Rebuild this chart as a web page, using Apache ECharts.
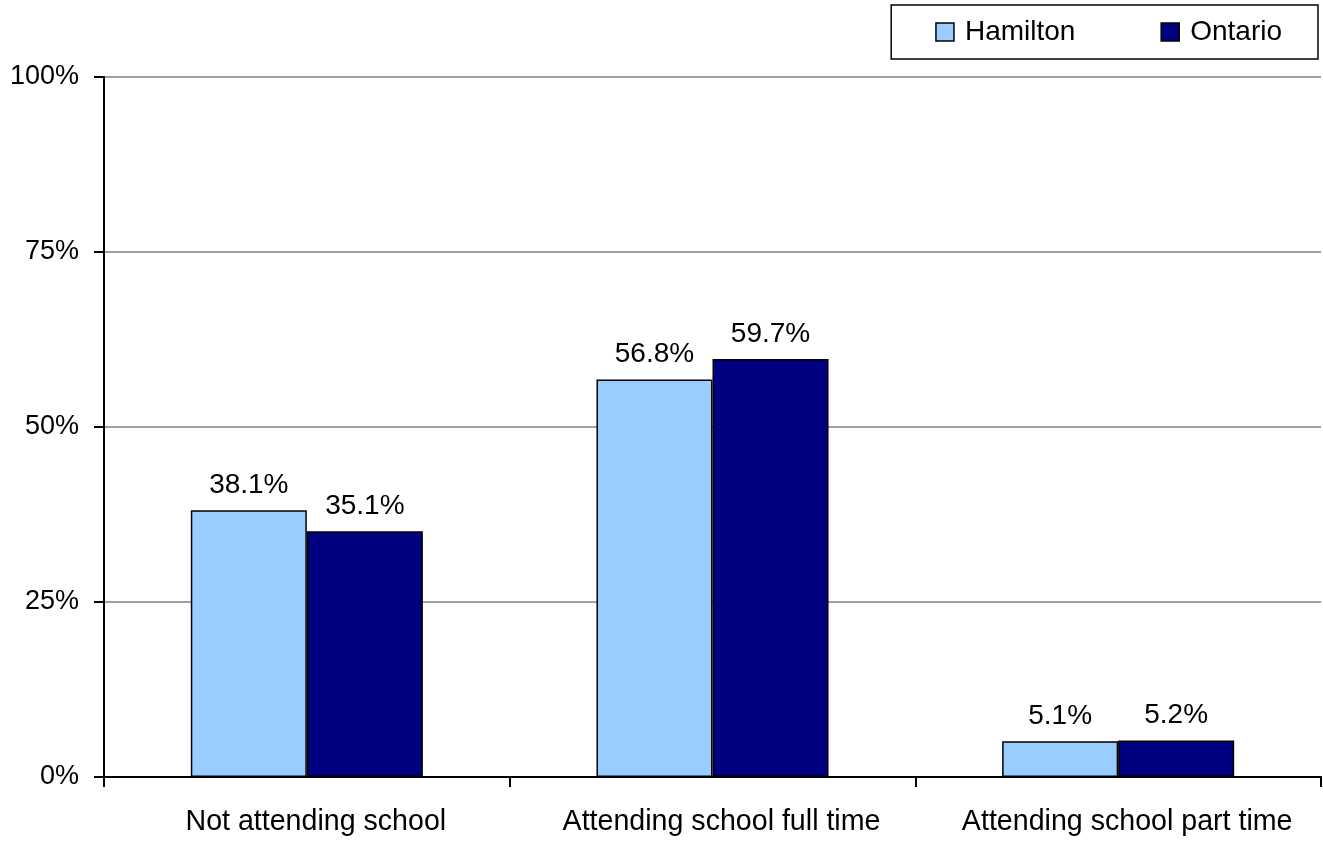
<!DOCTYPE html>
<html>
<head>
<meta charset="utf-8">
<script src="https://cdn.jsdelivr.net/npm/echarts@6/dist/echarts.min.js"></script>
<style>
  html, body { margin: 0; padding: 0; background: #fff; }
  #chart { width: 1323px; height: 842px; }
</style>
</head>
<body>
<div id="chart"></div>
<script>
// School attendance: Hamilton vs Ontario
const categories = ['Not attending school', 'Attending school full time', 'Attending school part time'];
const hamilton = [38.1, 56.8, 5.1];
const ontario = [35.1, 59.7, 5.2];
const seriesNames = ['Hamilton', 'Ontario'];
const yTicks = [0, 25, 50, 75, 100];

const FONT = '"Liberation Sans", Arial, sans-serif';

const chart = echarts.init(document.getElementById('chart'), null, { renderer: 'canvas' });

const labelStyle = {
  show: true,
  position: 'top',
  distance: 11,
  color: '#000',
  fontFamily: FONT,
  fontSize: 28,
  formatter: p => p.value.toFixed(1) + '%'
};

chart.setOption({
  animation: false,
  backgroundColor: '#fff',
  grid: { left: 104, right: 2, top: 77, bottom: 65, containLabel: false },
  legend: {
    data: seriesNames,
    right: 5,
    top: 5,
    orient: 'horizontal',
    itemWidth: 18,
    itemHeight: 18,
    itemGap: 85,
    padding: [13, 36, 13, 44],
    borderColor: '#000',
    borderWidth: 1.5,
    icon: 'rect',
    itemStyle: { borderColor: '#000', borderWidth: 1.5 },
    textStyle: { color: '#000', fontFamily: FONT, fontSize: 28, padding: [0, 0, 0, 6] }
  },
  xAxis: {
    type: 'category',
    data: categories,
    axisLine: { lineStyle: { color: '#000', width: 2 } },
    axisTick: { show: true, length: 10, interval: 0, lineStyle: { color: '#000', width: 2 } },
    axisLabel: { color: '#000', fontFamily: FONT, fontSize: 28.6, margin: 31, interval: 0, padding: [0, 0, 0, 18] },
    splitLine: { show: false }
  },
  yAxis: {
    type: 'value',
    min: 0,
    max: 100,
    interval: 25,
    axisLine: { show: true, lineStyle: { color: '#000', width: 2 } },
    axisTick: { show: true, length: 10, lineStyle: { color: '#000', width: 2 } },
    axisLabel: { color: '#000', fontFamily: FONT, fontSize: 27, margin: 25, formatter: v => yTicks.includes(v) ? v + '%' : '' },
    splitLine: { show: true, lineStyle: { color: '#a0a0a0', width: 2 } }
  },
  series: [
    {
      name: seriesNames[0],
      type: 'bar',
      data: hamilton,
      barGap: '0%',
      barCategoryGap: '42.8%',
      itemStyle: { color: '#99ccff', borderColor: '#000', borderWidth: 1.5 },
      label: labelStyle
    },
    {
      name: seriesNames[1],
      type: 'bar',
      data: ontario,
      barGap: '0%',
      barCategoryGap: '42.8%',
      itemStyle: { color: '#000080', borderColor: '#000', borderWidth: 1.5 },
      label: labelStyle
    }
  ]
});
</script>
</body>
</html>
